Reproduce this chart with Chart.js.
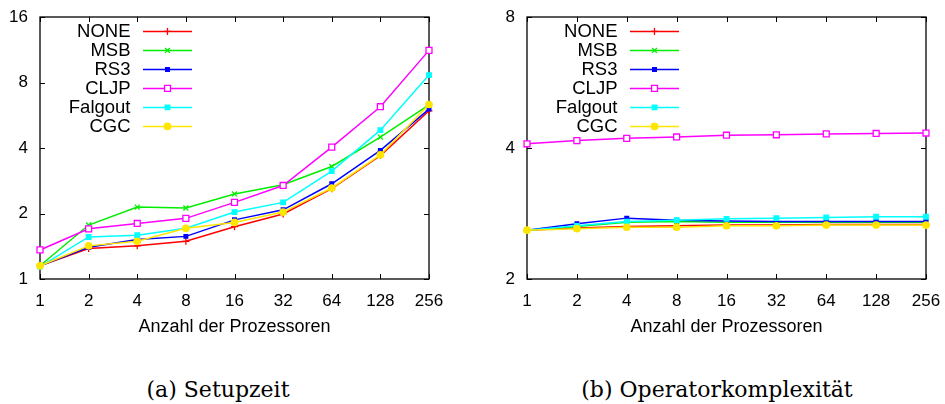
<!DOCTYPE html>
<html>
<head>
<meta charset="utf-8">
<script src="https://cdn.jsdelivr.net/npm/chart.js@4/dist/chart.umd.min.js"></script>
<style>
  body { margin: 0; background: #fff; width: 945px; height: 404px; position: relative; overflow: hidden; }
  .panel { position: absolute; top: 0; height: 345px; }
  #left { left: 0; width: 470px; }
  #right { left: 470px; width: 475px; }
  .cap { position: absolute; top: 377px; line-height: 26px; font-family: "DejaVu Serif", serif; font-size: 22px;
         color: #000; white-space: nowrap; transform: translateX(-50%); }
</style>
</head>
<body>
<div class="panel" id="left"><canvas id="setup"></canvas></div>
<div class="panel" id="right"><canvas id="opc"></canvas></div>
<div class="cap" style="left:218px">(a) Setupzeit</div>
<div class="cap" style="left:717px">(b) Operatorkomplexität</div>
<script>
var procs = ['1', '2', '4', '8', '16', '32', '64', '128', '256'];
var methods = ['NONE', 'MSB', 'RS3', 'CLJP', 'Falgout', 'CGC'];

// setup time
var setupNone    = [1.15, 1.38, 1.42, 1.49, 1.74, 1.99, 2.60, 3.69, 5.93];
var setupMsb     = [1.15, 1.77, 2.14, 2.12, 2.46, 2.71, 3.29, 4.49, 6.32];
var setupRs3     = [1.15, 1.40, 1.52, 1.57, 1.87, 2.08, 2.74, 3.90, 6.04];
var setupCljp    = [1.36, 1.70, 1.80, 1.90, 2.25, 2.69, 4.04, 6.19, 11.24];
var setupFalgout = [1.14, 1.56, 1.59, 1.71, 2.03, 2.25, 3.13, 4.83, 8.65];
var setupCgc     = [1.15, 1.42, 1.49, 1.71, 1.82, 2.03, 2.62, 3.72, 6.34];
var setupTicks   = [1, 2, 4, 8, 16];

// operator complexity
var opcNone    = [2.59, 2.62, 2.64, 2.65, 2.66, 2.66, 2.67, 2.67, 2.67];
var opcMsb     = [2.59, 2.64, 2.70, 2.71, 2.70, 2.70, 2.70, 2.70, 2.70];
var opcRs3     = [2.59, 2.68, 2.76, 2.73, 2.72, 2.71, 2.71, 2.71, 2.71];
var opcCljp    = [4.09, 4.16, 4.21, 4.24, 4.28, 4.29, 4.31, 4.32, 4.33];
var opcFalgout = [2.59, 2.65, 2.71, 2.73, 2.75, 2.76, 2.77, 2.78, 2.78];
var opcCgc     = [2.59, 2.61, 2.63, 2.63, 2.65, 2.65, 2.66, 2.66, 2.66];
var opcTicks   = [2, 4, 8];

var styles = [
  { color: '#ff0000', fill: '#ff0000', shape: 'cross',    r: 3.5 },
  { color: '#00ee00', fill: '#00ee00', shape: 'crossRot', r: 3.5 },
  { color: '#0000ff', fill: '#0000ff', shape: 'rect',     r: 2.6 },
  { color: '#ff00ff', fill: '#ffffff', shape: 'rect',     r: 4.2 },
  { color: '#00ffff', fill: '#00ffff', shape: 'rect',     r: 3.2 },
  { color: '#ffe600', fill: '#ffe600', shape: 'circle',   r: 3.2 }
];

var FONT = 'Liberation Sans';

// border box and inward ticks on all four sides
var framePlugin = {
  id: 'frame',
  beforeDatasetsDraw: function (chart) {
    var ctx = chart.ctx, a = chart.chartArea;
    var xs = chart.scales.x, ys = chart.scales.y, len = 5;
    ctx.save();
    ctx.strokeStyle = '#000';
    ctx.lineWidth = 1;
    ctx.beginPath();
    xs.ticks.forEach(function (t, i) {
      var px = Math.round(xs.getPixelForTick(i)) + 0.5;
      ctx.moveTo(px, a.bottom); ctx.lineTo(px, a.bottom - len);
      ctx.moveTo(px, a.top); ctx.lineTo(px, a.top + len);
    });
    ys.ticks.forEach(function (t) {
      var py = Math.round(ys.getPixelForValue(t.value)) + 0.5;
      ctx.moveTo(a.left, py); ctx.lineTo(a.left + len, py);
      ctx.moveTo(a.right, py); ctx.lineTo(a.right - len, py);
    });
    ctx.stroke();
    ctx.lineWidth = 1.3;
    ctx.strokeRect(a.left, a.top, a.right - a.left, a.bottom - a.top);
    ctx.restore();
  }
};

// key in the upper left corner: label, then a line sample with its marker
var keyPlugin = {
  id: 'key',
  afterDraw: function (chart) {
    var ctx = chart.ctx, a = chart.chartArea;
    ctx.save();
    ctx.font = '18.5px "' + FONT + '"';
    ctx.textAlign = 'right';
    ctx.textBaseline = 'alphabetic';
    chart.data.datasets.forEach(function (ds, i) {
      var y = a.top + 14.4 + i * 19;
      ctx.fillStyle = '#000';
      ctx.fillText(ds.label, a.left + 90.5, y + 6);
      ctx.strokeStyle = ds.borderColor;
      ctx.lineWidth = ds.borderWidth;
      ctx.beginPath();
      ctx.moveTo(a.left + 103, y);
      ctx.lineTo(a.left + 152, y);
      ctx.stroke();
      ctx.fillStyle = ds.pointBackgroundColor;
      ctx.lineWidth = ds.pointBorderWidth;
      Chart.helpers.drawPoint(ctx, {
        pointStyle: ds.pointStyle, radius: ds.pointRadius, rotation: 0, borderWidth: ds.pointBorderWidth
      }, a.left + 127.5, y);
    });
    ctx.restore();
  }
};

function makeChart(id, series, tickVals, yWidth, rightPad) {
  var datasets = series.map(function (vals, i) {
    var s = styles[i];
    return {
      label: methods[i],
      data: vals,
      borderColor: s.color,
      backgroundColor: s.fill,
      borderWidth: 1.5,
      pointStyle: s.shape,
      pointRadius: s.r,
      pointBackgroundColor: s.fill,
      pointBorderColor: s.color,
      pointBorderWidth: 1.3,
      tension: 0,
      clip: false,
      order: series.length - i
    };
  });

  return new Chart(document.getElementById(id), {
    type: 'line',
    data: { labels: procs, datasets: datasets },
    options: {
      responsive: true,
      maintainAspectRatio: false,
      animation: false,
      layout: { padding: { top: 17, right: rightPad, left: 0, bottom: 0 } },
      plugins: { legend: { display: false }, tooltip: { enabled: false } },
      scales: {
        x: {
          type: 'category',
          offset: false,
          grid: { display: false, drawTicks: false },
          border: { display: false },
          ticks: { padding: 12, maxRotation: 0, autoSkip: false, color: '#000', font: { family: FONT, size: 17 } },
          title: {
            display: true, text: 'Anzahl der Prozessoren', color: '#000',
            font: { family: FONT, size: 18 }, padding: { top: 0, bottom: 7 }
          },
          afterFit: function (s) {
            s.height = 66;
            // let the end labels hang over the edges instead of shrinking the plot
            s.paddingLeft = 0;
            s.paddingRight = 0;
          }
        },
        y: {
          type: 'logarithmic',
          min: tickVals[0],
          max: tickVals[tickVals.length - 1],
          grid: { display: false, drawTicks: false },
          border: { display: false },
          ticks: {
            padding: 12, color: '#000', font: { family: FONT, size: 17 },
            callback: function (v) { return String(v); }
          },
          afterBuildTicks: function (s) {
            s.ticks = tickVals.map(function (v) { return { value: v }; });
          },
          afterFit: function (s) {
            s.width = yWidth;
            s.paddingTop = 0;
            s.paddingBottom = 0;
          }
        }
      }
    },
    plugins: [framePlugin, keyPlugin]
  });
}

makeChart('setup', [setupNone, setupMsb, setupRs3, setupCljp, setupFalgout, setupCgc], setupTicks, 40, 41);
makeChart('opc', [opcNone, opcMsb, opcRs3, opcCljp, opcFalgout, opcCgc], opcTicks, 57, 19);
</script>
</body>
</html>
